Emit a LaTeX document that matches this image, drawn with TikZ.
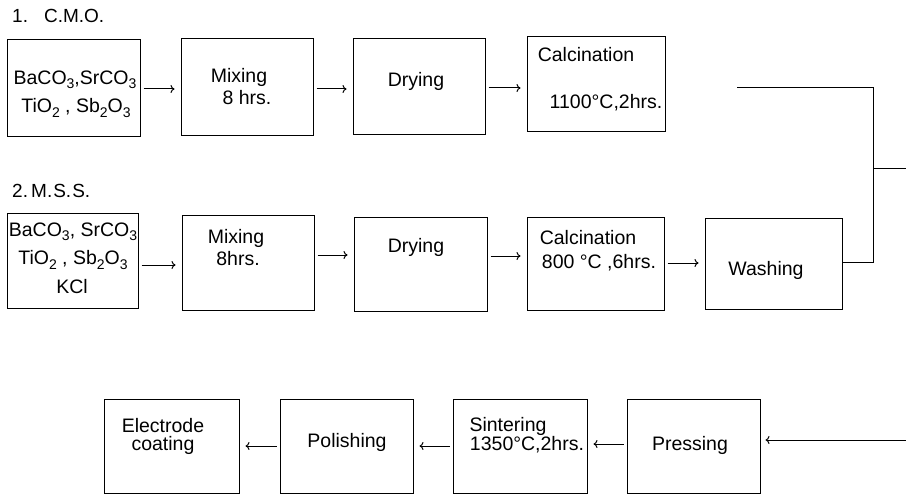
\documentclass[tikz,border=0pt]{standalone}
\usepackage{fontspec}
\setmainfont{Liberation Sans}
\usetikzlibrary{arrows.meta}
\newcommand\sbs[1]{\raisebox{-0.4ex}{\fontsize{14}{14}\selectfont #1}}
\begin{document}
\begin{tikzpicture}[x=1pt,y=-1pt,
  box/.style={draw, line width=1pt, inner sep=0pt},
  txt/.style={inner sep=0pt, font=\fontsize{19.5}{22}\selectfont},
  ttl/.style={inner sep=0pt, anchor=west, font=\fontsize{19}{22}\selectfont},
  arr/.style={line width=1pt, -{To[length=4pt,width=8pt]}, shorten <=3pt, shorten >=6pt},
  ln/.style={line width=1pt}]
\path[use as bounding box, fill=white] (0,0) rectangle (906,495);

% titles
\node[ttl] (t1) at (12,16) {1.\hspace{16pt}C.M.O.};
\node[ttl] (t2) at (12,191) {2.\,M.\kern1pt S.\kern1pt S.};

% row 1 boxes
\node[box, minimum width=133pt, minimum height=96pt] (A1) at (73.5,88) {};
\node[box, minimum width=132pt, minimum height=96pt] (A2) at (247,87) {};
\node[box, minimum width=132pt, minimum height=95pt] (A3) at (419,86.5) {};
\node[box, minimum width=138pt, minimum height=95pt] (A4) at (596,84.5) {};
% row 2 boxes
\node[box, minimum width=131pt, minimum height=95pt] (B1) at (72.5,260.5) {};
\node[box, minimum width=132pt, minimum height=95pt] (B2) at (248,262.5) {};
\node[box, minimum width=133pt, minimum height=94pt] (B3) at (420.5,264) {};
\node[box, minimum width=137pt, minimum height=93pt] (B4) at (595.5,263.5) {};
\node[box, minimum width=137pt, minimum height=91pt] (B5) at (773.5,263.5) {};
% row 3 boxes
\node[box, minimum width=135pt, minimum height=94pt] (C1) at (171.5,446) {};
\node[box, minimum width=133pt, minimum height=94pt] (C2) at (346.5,446) {};
\node[box, minimum width=134pt, minimum height=94pt] (C3) at (520,446) {};
\node[box, minimum width=133pt, minimum height=94pt] (C4) at (693.5,446) {};

% row 1 texts
\node[txt] (a1a) at (75,80) {BaCO\sbs{3},SrCO\sbs{3}};
\node[txt] (a1b) at (76,108) {TiO\sbs{2} , Sb\sbs{2}O\sbs{3}};
\node[txt] (a2a) at (239,77) {Mixing};
\node[txt] (a2b) at (247,98) {8 hrs.};
\node[txt] (a3a) at (416,81) {Drying};
\node[txt] (a4a) at (586,55) {Calcination};
\node[txt] (a4b) at (606,103) {1100°C,2hrs.};

% row 2 texts
\node[txt] (b1a) at (73,232) {BaCO\sbs{3}, SrCO\sbs{3}};
\node[txt] (b1b) at (73,260) {TiO\sbs{2} , Sb\sbs{2}O\sbs{3}};
\node[txt] (b1c) at (72,287) {KCl};
\node[txt] (b2a) at (236,238) {Mixing};
\node[txt] (b2b) at (238,259) {8hrs.};
\node[txt] (b3a) at (416,247) {Drying};
\node[txt] (b4a) at (588,238) {Calcination};
\node[txt] (b4b) at (599,263) {800 °C ,6hrs.};
\node[txt] (b5a) at (766,270) {Washing};

% row 3 texts
\node[txt, align=center, font=\fontsize{19.5}{18}\selectfont] (c1a) at (163,436) {Electrode\\coating};
\node[txt] (c2a) at (347,442) {Polishing};
\node[txt] (c3a) at (508,426) {Sintering};
\node[txt] (c3b) at (527,445) {1350°C,2hrs.};
\node[txt] (c4a) at (690,445) {Pressing};

% row 1 arrows
\draw[arr] ([yshift=-1pt]A1.east) -- ([yshift=-1pt]A1.east -| A2.west);
\draw[arr] ([yshift=-2pt]A2.east) -- ([yshift=-2pt]A2.east -| A3.west);
\draw[arr] ([yshift=-1.5pt]A3.east) -- ([yshift=-1.5pt]A3.east -| A4.west);
% row 2 arrows
\draw[arr] ([yshift=-4.5pt]B1.east) -- ([yshift=-4.5pt]B1.east -| B2.west);
\draw[arr] ([yshift=7.5pt]B2.east) -- ([yshift=7.5pt]B2.east -| B3.west);
\draw[arr] ([yshift=8pt]B3.east) -- ([yshift=8pt]B3.east -| B4.west);
\draw[arr] ([yshift=0.5pt]B4.east) -- ([yshift=0.5pt]B4.east -| B5.west);
% row 3 arrows
\draw[arr] (C2.west) -- (C1.east);
\draw[arr] (C3.west) -- (C2.west -| C2.east);
\draw[arr] ([yshift=2pt]C4.west) -- ([yshift=2pt]C4.west -| C3.east);

% connecting lines
\coordinate (L0) at (737,88);
\coordinate (J1) at (873,88);
\coordinate (J2) at (873,168);
\coordinate (E1) at (906,168);
\coordinate (E2) at (906,440);
\draw[ln] (L0) -- (J1) |- ([yshift=1.5pt]B5.east);
\draw[ln] (J2) -- (E1);
\draw[line width=1pt, -{To[length=4pt,width=8pt]}, shorten >=5pt] (E2) -- (E2 -| C4.east);
\end{tikzpicture}
\end{document}
